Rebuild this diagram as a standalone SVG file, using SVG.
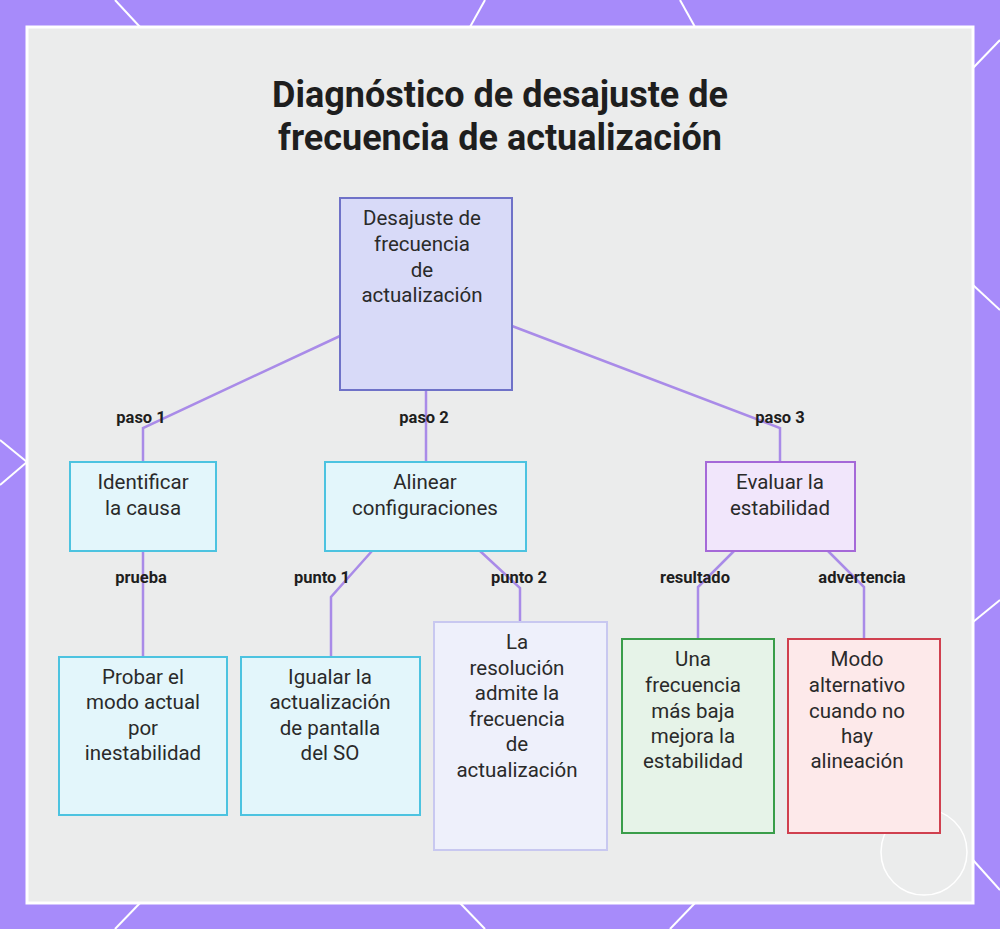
<svg xmlns="http://www.w3.org/2000/svg" width="1000" height="929" viewBox="0 0 1000 929">
<style>
.n{font-family:Roboto,"Liberation Sans",sans-serif;font-size:20.5px;fill:#2a2a2a;text-anchor:middle}
.l{font-family:Roboto,"Liberation Sans",sans-serif;font-size:16.5px;font-weight:bold;fill:#1e1e1e;text-anchor:middle}
.c{fill:none;stroke:#a98be8;stroke-width:2.5}
.cy{fill:#e3f6fb;stroke:#4cc3e0;stroke-width:2}
.bg{stroke:#fff;stroke-width:2}
</style>
<rect width="1000" height="929" fill="#a78bfa"/>
<g class="bg">
<line x1="115" y1="0" x2="140" y2="27"/><line x1="485" y1="0" x2="470" y2="27"/><line x1="680" y1="0" x2="695" y2="27"/>
<line x1="1000" y1="40" x2="973" y2="68"/><line x1="973" y1="285" x2="1000" y2="310"/><line x1="0" y1="440" x2="27" y2="462"/><line x1="0" y1="485" x2="27" y2="462"/>
<line x1="973" y1="622" x2="1000" y2="600"/><line x1="973" y1="860" x2="1000" y2="890"/><line x1="115" y1="929" x2="140" y2="903"/><line x1="485" y1="929" x2="460" y2="903"/><line x1="670" y1="929" x2="695" y2="903"/>
</g>
<rect x="27" y="27" width="946" height="876" fill="#ebecec" stroke="#fff" stroke-width="3"/>
<circle cx="924" cy="852" r="43" fill="none" stroke="#fff" stroke-width="1.5"/>
<text x="500" y="107" font-family="Roboto,'Liberation Sans',sans-serif" font-size="36" font-weight="bold" fill="#1e1e1e" text-anchor="middle">Diagnóstico de desajuste de</text>
<text x="500" y="150" font-family="Roboto,'Liberation Sans',sans-serif" font-size="36" font-weight="bold" fill="#1e1e1e" text-anchor="middle">frecuencia de actualización</text>
<g id="connectors">
<path class="c" d="M340,336 L143,428 L143,462"/>
<path class="c" d="M426,390 L426,462"/>
<path class="c" d="M512,326 L780,428 L780,462"/>
<path class="c" d="M143,551 L143,657"/>
<path class="c" d="M372,551 L331,597 L331,657"/>
<path class="c" d="M480,551 L520,588 L520,622"/>
<path class="c" d="M734,551 L698,587 L698,639"/>
<path class="c" d="M828,551 L864,587 L864,639"/>
<text class="l" x="141" y="423">paso 1</text>
<text class="l" x="424" y="423">paso 2</text>
<text class="l" x="780" y="423">paso 3</text>
<text class="l" x="141" y="583">prueba</text>
<text class="l" x="322" y="583">punto 1</text>
<text class="l" x="519" y="583">punto 2</text>
<text class="l" x="695" y="583">resultado</text>
<text class="l" x="862" y="583">advertencia</text>
</g>
<g id="root"><rect x="340" y="198" width="172" height="192" fill="#d8daf8" stroke="#6f72c8" stroke-width="2"/>
<text class="n" x="422" y="225">Desajuste de</text><text class="n" x="422" y="251">frecuencia</text><text class="n" x="422" y="277">de</text><text class="n" x="422" y="302">actualización</text></g>
<g id="identificar"><rect class="cy" x="70" y="462" width="146" height="89"/>
<text class="n" x="143" y="489">Identificar</text><text class="n" x="143" y="515">la causa</text></g>
<g id="alinear"><rect class="cy" x="325" y="462" width="201" height="89"/>
<text class="n" x="425" y="489">Alinear</text><text class="n" x="425" y="515">configuraciones</text></g>
<g id="evaluar"><rect x="706" y="462" width="149" height="89" fill="#f1e6fb" stroke="#a569d8" stroke-width="2"/>
<text class="n" x="780" y="489">Evaluar la</text><text class="n" x="780" y="515">estabilidad</text></g>
<g id="probar"><rect class="cy" x="59" y="657" width="168" height="158"/>
<text class="n" x="143" y="684">Probar el</text><text class="n" x="143" y="709">modo actual</text><text class="n" x="143" y="735">por</text><text class="n" x="143" y="760">inestabilidad</text></g>
<g id="igualar"><rect class="cy" x="241" y="657" width="179" height="158"/>
<text class="n" x="330" y="684">Igualar la</text><text class="n" x="330" y="709">actualización</text><text class="n" x="330" y="735">de pantalla</text><text class="n" x="330" y="760">del SO</text></g>
<g id="resolucion"><rect x="434" y="622" width="173" height="228" fill="#eef0fb" stroke="#c8c8f0" stroke-width="2"/>
<text class="n" x="517" y="649">La</text><text class="n" x="517" y="675">resolución</text><text class="n" x="517" y="700">admite la</text><text class="n" x="517" y="726">frecuencia</text><text class="n" x="517" y="751">de</text><text class="n" x="517" y="777">actualización</text></g>
<g id="frecuencia"><rect x="622" y="639" width="152" height="194" fill="#e6f3e8" stroke="#3a9d4a" stroke-width="2"/>
<text class="n" x="693" y="666">Una</text><text class="n" x="693" y="692">frecuencia</text><text class="n" x="693" y="718">más baja</text><text class="n" x="693" y="743">mejora la</text><text class="n" x="693" y="768">estabilidad</text></g>
<g id="modo"><rect x="788" y="639" width="152" height="194" fill="#fde9ea" stroke="#d0404f" stroke-width="2"/>
<text class="n" x="857" y="666">Modo</text><text class="n" x="857" y="692">alternativo</text><text class="n" x="857" y="718">cuando no</text><text class="n" x="857" y="743">hay</text><text class="n" x="857" y="768">alineación</text></g>
</svg>
